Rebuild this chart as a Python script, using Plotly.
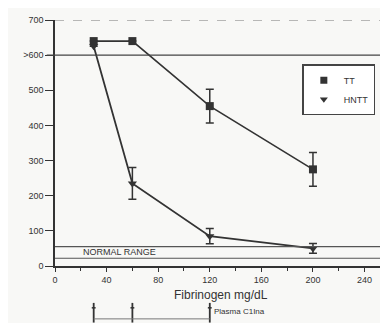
import plotly.graph_objects as go

# Data
fibrinogen = [30, 60, 120, 200]
tt_values = [640, 640, 455, 275]
tt_err = [0, 0, 48, 48]
hntt_values = [625, 235, 85, 50]
hntt_err = [0, 45, 22, 14]

normal_low = 22
normal_high = 55
upper_limit = 600
doses = [30, 60, 120]

x_ticks = [0, 40, 80, 120, 160, 200, 240]
y_ticks = [0, 100, 200, 300, 400, 500, 600, 700]
y_ticktext = ["0", "100", "200", "300", "400", "500", ">600", "700"]

ink = "#333333"
bg = "#f8f8f6"

fig = go.Figure()

fig.add_trace(go.Scatter(
    x=fibrinogen, y=tt_values, mode="lines+markers", name="TT", showlegend=False,
    line=dict(color=ink, width=1.6),
    marker=dict(symbol="square", size=8, color=ink),
    error_y=dict(type="data", array=tt_err, color=ink, thickness=1.5, width=4),
))
fig.add_trace(go.Scatter(
    x=fibrinogen, y=hntt_values, mode="lines+markers", name="HNTT", showlegend=False,
    line=dict(color=ink, width=1.8),
    marker=dict(symbol="triangle-down", size=8, color=ink),
    error_y=dict(type="data", array=hntt_err, color=ink, thickness=1.5, width=4),
))
# legend entries (markers only)
fig.add_trace(go.Scatter(x=[None], y=[None], mode="markers", name="TT",
                         marker=dict(symbol="square", size=7, color=ink)))
fig.add_trace(go.Scatter(x=[None], y=[None], mode="markers", name="HNTT",
                         marker=dict(symbol="triangle-down", size=7, color=ink)))

shapes = []
for yv in (normal_low, normal_high):
    shapes.append(dict(type="line", xref="paper", x0=0, x1=1, yref="y", y0=yv, y1=yv,
                       line=dict(color="#555", width=1.2)))
shapes.append(dict(type="line", xref="paper", x0=-0.025, x1=1, yref="y", y0=upper_limit, y1=upper_limit,
                   line=dict(color="#444", width=1.3)))
shapes.append(dict(type="line", xref="paper", x0=0, x1=1, yref="y", y0=700, y1=700,
                   line=dict(color="#777", width=1, dash="dash")))
shapes.append(dict(type="line", xref="paper", x0=1, x1=1, yref="y", y0=50, y1=700,
                   line=dict(color="#666", width=1.3)))
for d in doses:
    shapes.append(dict(type="line", xref="x", x0=d, x1=d, yref="paper", y0=-0.15, y1=-0.23,
                       line=dict(color=ink, width=1.8)))
    shapes.append(dict(type="line", xref="x", x0=d - 1.5, x1=d + 1.5, yref="paper", y0=-0.17, y1=-0.17,
                       line=dict(color=ink, width=1.5)))
shapes.append(dict(type="line", xref="x", x0=doses[0], x1=doses[-1], yref="paper", y0=-0.215, y1=-0.215,
                   line=dict(color="#777", width=1)))

annotations = [
    dict(text="NORMAL RANGE", x=20, y=(normal_low + normal_high) / 2 + 2, xref="x", yref="y",
         xanchor="left", yanchor="middle", showarrow=False,
         font=dict(family="Liberation Sans", size=9, color=ink)),
    dict(text="Fibrinogen mg/dL", x=0.5, y=-0.118, xref="paper", yref="paper",
         xanchor="center", yanchor="middle", showarrow=False,
         font=dict(family="Liberation Sans", size=12, color=ink)),
    dict(text="Plasma C1Ina", x=doses[-1] + 2, y=-0.185, xref="x", yref="paper",
         xanchor="left", yanchor="middle", showarrow=False,
         font=dict(family="Liberation Sans", size=8, color=ink)),
]

# the page body has an 8px margin, so the figure is shrunk and margins offset to compensate
fig.update_layout(
    width=380, height=315,
    margin=dict(l=47, r=1, t=12, b=57),
    paper_bgcolor=bg, plot_bgcolor=bg,
    font=dict(family="Liberation Sans", color=ink),
    shapes=shapes, annotations=annotations,
    legend=dict(x=0.745, y=0.82, xanchor="left", yanchor="top",
                bgcolor="#ffffff", bordercolor="#444", borderwidth=1.5,
                font=dict(size=9, color=ink), itemwidth=30, tracegroupgap=0),
    xaxis=dict(range=[0, 257.4], tickvals=x_ticks, ticks="outside", ticklen=4, tickwidth=1.3,
               tickcolor=ink, showline=True, linecolor=ink, linewidth=1.5, showgrid=False,
               zeroline=False, tickfont=dict(size=9, color=ink),
               minor=dict(dtick=20, tick0=0, ticks="outside", ticklen=3, tickcolor=ink, showgrid=False)),
    yaxis=dict(range=[0, 700], tickvals=y_ticks, ticktext=y_ticktext, ticks="outside", ticklen=8,
               tickwidth=1.3, tickcolor=ink, showline=True, linecolor=ink, linewidth=1.5,
               showgrid=False, zeroline=False, tickfont=dict(size=9, color=ink)),
)

fig.write_html("out.html")
